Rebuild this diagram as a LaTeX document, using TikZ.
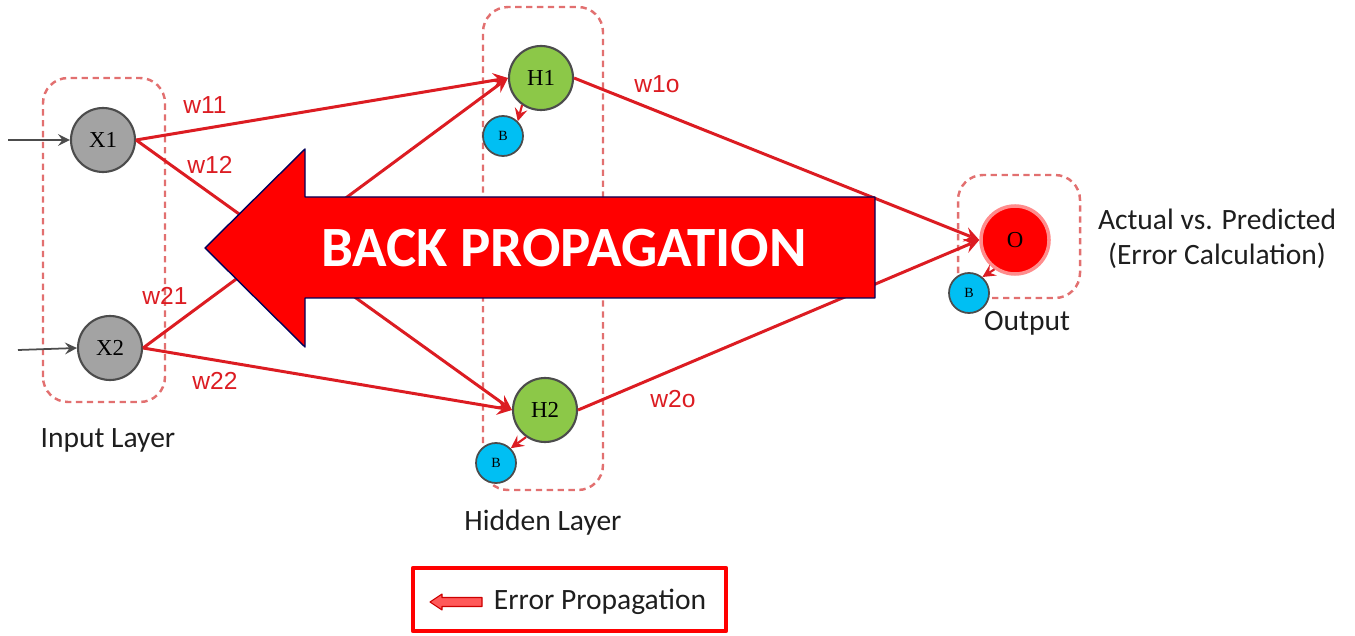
\documentclass[tikz,border=0pt]{standalone}
\usepackage{fontspec}
\setmainfont{Carlito}
\newfontfamily\nodefont{Liberation Serif}
\newfontfamily\wfont{Liberation Sans}

\definecolor{edgered}{RGB}{220,28,34}
\definecolor{boxred}{RGB}{226,112,112}
\definecolor{neurongray}{RGB}{163,163,163}
\definecolor{hiddengreen}{RGB}{140,200,72}
\definecolor{biasblue}{RGB}{0,191,243}
\definecolor{labelgray}{RGB}{30,30,30}

\tikzset{
  neuron/.style={circle, draw=black!70, line width=0.6pt, minimum size=0.64cm,
    inner sep=0pt, font=\nodefont\fontsize{6.5}{7}\selectfont},
  bias/.style={circle, draw=black!70, line width=0.5pt, fill=biasblue,
    minimum size=0.40cm, inner sep=0pt, font=\nodefont\fontsize{4}{5}\selectfont},
  layerbox/.style={draw=boxred, line width=0.7pt, dash pattern=on 1.8pt off 1.3pt,
    rounded corners=0.25cm},
  weight/.style={text=edgered, font=\wfont\fontsize{7}{8}\selectfont},
  caption/.style={text=labelgray, font=\fontsize{8.4}{10}\selectfont},
  link/.style={->, draw=edgered, line width=0.85pt},
  biaslink/.style={->, draw=edgered, line width=0.6pt}
}

\begin{document}
\begin{tikzpicture}[>=stealth, scale=1.0, line join=round]
  \useasboundingbox (0,0) rectangle (13.55,6.35);

  % Dashed layer frames
  \draw[layerbox] (0.43,2.33) rectangle (1.65,5.57);   % input
  \draw[layerbox] (4.83,1.45) rectangle (6.03,6.28);   % hidden
  \draw[layerbox] (9.58,3.37) rectangle (10.80,4.60);  % output

  % Neurons
  \node[neuron, fill=neurongray] (x1) at (1.03,4.95) {X1};
  \node[neuron, fill=neurongray] (x2) at (1.10,2.87) {X2};
  \node[neuron, fill=hiddengreen] (h1) at (5.41,5.57) {H1};
  \node[neuron, fill=hiddengreen] (h2) at (5.45,2.25) {H2};
  \node[neuron, fill=red, draw=red!45, line width=1pt, minimum size=0.68cm] (out) at (10.15,3.95) {O};

  % Bias units
  \node[bias] (b1) at (5.03,4.99) {B};
  \node[bias] (b2) at (4.96,1.72) {B};
  \node[bias] (bo) at (9.69,3.42) {B};

  % Inputs
  \coordinate (in1) at (0.08,4.95);
  \coordinate (in2) at (0.18,2.85);
  \draw[->, black!70, line width=0.5pt] (in1) -- (x1.west);
  \draw[->, black!70, line width=0.5pt] (in2) -- (x2.west);

  % Weighted links
  \draw[link] (x1.east) -- (h1.west);
  \draw[link] (x1.east) -- (h2.west);
  \draw[link] (x2.east) -- (h1.west);
  \draw[link] (x2.east) -- (h2.west);
  \draw[link] (h1.east) -- (out.west);
  \draw[link] (h2.east) -- (out.west);

  % Bias links
  \draw[biaslink] (h1.-125) -- (b1.45);
  \draw[biaslink] (h2.-125) -- (b2.45);
  \draw[biaslink] (out.-125) -- (bo.50);

  % Weight labels
  \node[weight] (w11) at (2.05,5.30) {w11};
  \node[weight] (w12) at (2.10,4.70) {w12};
  \node[weight] (w21) at (1.65,3.39) {w21};
  \node[weight] (w22) at (2.15,2.54) {w22};
  \node[weight] (w1o) at (6.57,5.51) {w1o};
  \node[weight] (w2o) at (6.73,2.36) {w2o};

  % Big back propagation arrow
  \draw[fill=red, draw=blue!35!black, line width=0.4pt]
    (2.05,3.87) -- (3.05,4.86) -- (3.05,4.38) -- (8.75,4.38)
    -- (8.75,3.37) -- (3.05,3.37) -- (3.05,2.88) -- cycle;
  \node[text=white, font=\bfseries\fontsize{16.2}{18}\selectfont] (backprop) at (5.64,3.87) {BACK PROPAGATION};

  % Layer captions
  \node[caption] (inlabel) at (1.08,1.95) {Input Layer};
  \node[caption] (hidlabel) at (5.43,1.12) {Hidden Layer};
  \node[caption] (outlabel) at (10.27,3.12) {Output};
  \node[caption, align=center] (errlabel) at (12.17,3.96) {Actual vs. Predicted\\(Error Calculation)};

  % Legend
  \draw[red, line width=1.2pt] (4.13,0.04) rectangle (7.26,0.67);
  \draw[fill=red!65, draw=red!80!black, line width=0.3pt]
    (4.30,0.33) -- (4.42,0.41) -- (4.42,0.375) -- (4.82,0.375)
    -- (4.82,0.285) -- (4.42,0.285) -- (4.42,0.25) -- cycle;
  \node[caption] (legtext) at (6.00,0.33) {Error Propagation};
\end{tikzpicture}
\end{document}
